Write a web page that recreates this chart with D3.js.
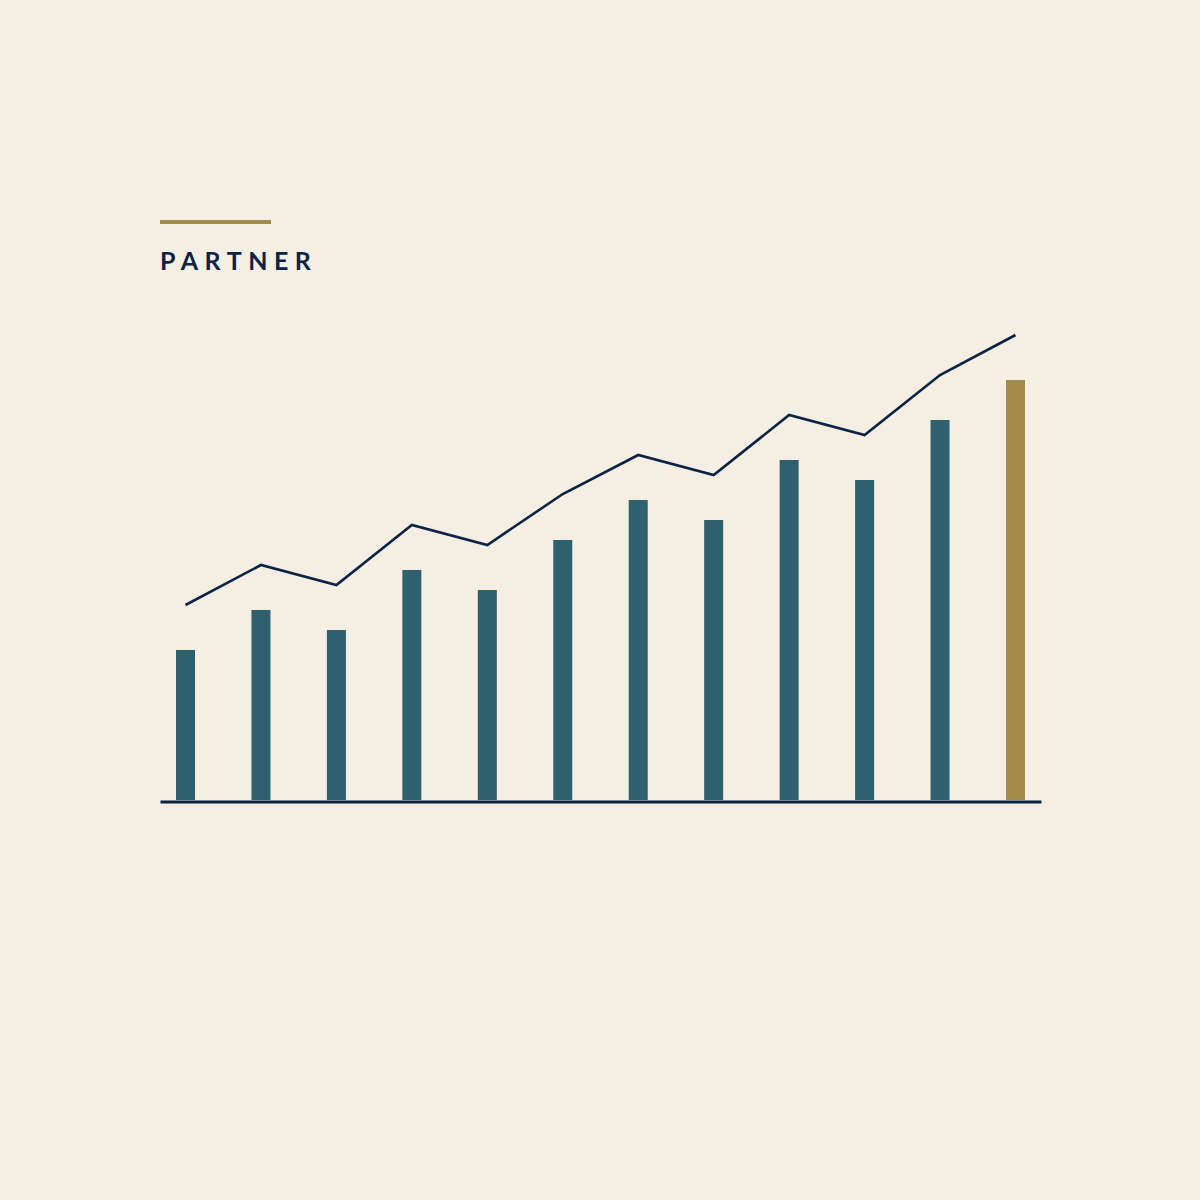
<!DOCTYPE html>
<html>
<head>
<meta charset="utf-8">
<script src="https://cdn.jsdelivr.net/npm/d3@7"></script>
<style>
  html, body { margin: 0; padding: 0; background: #F4EEE3; }
  svg { display: block; }
</style>
</head>
<body>
<div id="chart"></div>
<script>
// data
const periods = ["P1", "P2", "P3", "P4", "P5", "P6", "P7", "P8", "P9", "P10", "P11", "P12"]
const barValues = [30, 38, 34, 46, 42, 52, 60, 56, 68, 64, 76, 84]
const lineValues = [39, 47, 43, 55, 51, 61.2, 69, 65, 77, 73, 85, 93]
const highlightIndex = 11
const titleText = "PARTNER"

const colors = {
  bg: "#F4EEE3",
  bar: "#2F606D",
  highlight: "#A38B4B",
  line: "#0B2344",
}

// dimensions
let dimensions = {
  width: 1200,
  height: 1200,
  baseline: 800,
  top: 300,
  firstX: 185.5,
  lastX: 1015.5,
  barWidth: 19,
}

const wrapper = d3.select("#chart")
  .append("svg")
    .attr("width", dimensions.width)
    .attr("height", dimensions.height)

wrapper.append("rect")
  .attr("width", dimensions.width)
  .attr("height", dimensions.height)
  .attr("fill", colors.bg)

// scales
const xScale = d3.scalePoint()
  .domain(periods)
  .range([dimensions.firstX, dimensions.lastX])

const yScale = d3.scaleLinear()
  .domain([0, 100])
  .range([dimensions.baseline, dimensions.top])

const data = periods.map((p, i) => ({ period: p, bar: barValues[i], line: lineValues[i], i }))

// bars
wrapper.append("g")
  .selectAll("rect")
  .data(data)
  .join("rect")
    .attr("x", d => xScale(d.period) - dimensions.barWidth / 2)
    .attr("y", d => yScale(d.bar))
    .attr("width", dimensions.barWidth)
    .attr("height", d => yScale(0) - yScale(d.bar))
    .attr("fill", d => d.i === highlightIndex ? colors.highlight : colors.bar)

// line
const lineGenerator = d3.line()
  .x(d => xScale(d.period))
  .y(d => yScale(d.line))

wrapper.append("path")
  .datum(data)
  .attr("d", lineGenerator)
  .attr("fill", "none")
  .attr("stroke", colors.line)
  .attr("stroke-width", 2.6)
  .attr("stroke-linejoin", "miter")

// baseline axis (no ticks)
const xAxis = wrapper.append("g")
  .attr("transform", `translate(0, ${dimensions.baseline + 1.5})`)
  .call(d3.axisBottom(d3.scaleLinear().domain([0, 1]).range([160, 1041])).tickValues([]).tickSizeOuter(0))

xAxis.select(".domain")
  .attr("stroke", colors.line)
  .attr("stroke-width", 3)

// title with gold rule
wrapper.append("rect")
  .attr("x", 160)
  .attr("y", 220)
  .attr("width", 111)
  .attr("height", 4)
  .attr("fill", colors.highlight)

wrapper.append("text")
  .attr("x", 160)
  .attr("y", 270)
  .attr("fill", colors.line)
  .style("font-family", "Lato, 'Open Sans', sans-serif")
  .style("font-weight", "700")
  .style("font-size", "25px")
  .style("letter-spacing", "6.5px")
  .text(titleText)
</script>
</body>
</html>
